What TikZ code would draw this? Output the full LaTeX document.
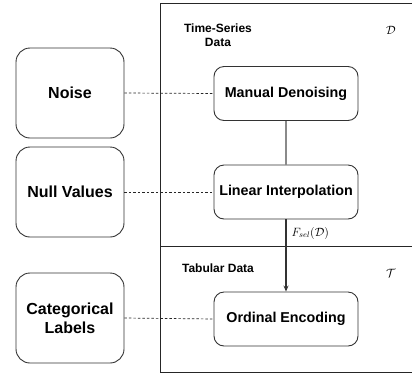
\documentclass[tikz,border=0pt]{standalone}
\usepackage{fontspec}
\setmainfont{Liberation Sans}
\usetikzlibrary{arrows.meta}
\definecolor{bordercol}{HTML}{333333}
\definecolor{vlinecol}{HTML}{8A8A8A}
\begin{document}
\begin{tikzpicture}[x=1pt,y=-1pt,
  leftbox/.style={draw=bordercol,line width=0.9pt,rounded corners=14pt,minimum width=108pt,minimum height=90pt,align=center,font=\fontsize{16}{19}\selectfont\bfseries,inner sep=0pt},
  stepbox/.style={draw=bordercol,line width=0.9pt,rounded corners=10pt,minimum width=144pt,minimum height=54pt,align=center,font=\fontsize{14.3}{17}\selectfont\bfseries,inner sep=0pt},
  framel/.style={draw=black!85,line width=1pt},
  link/.style={draw=black!85,dashed,dash pattern=on 2.5pt off 2pt,line width=0.7pt},
  lbl/.style={font=\fontsize{12}{15}\selectfont\bfseries,align=center,inner sep=0pt},
  mathl/.style={font=\fontsize{12}{14}\selectfont,inner sep=0pt}]
\useasboundingbox (0,0) rectangle (412,373);
% frame
\coordinate (ftl) at (160,3);
\coordinate (ftr) at (412,3);
\coordinate (fbl) at (160,372);
\coordinate (fbr) at (412,372);
\coordinate (fml) at (160,246);
\coordinate (fmr) at (412,246);
\draw[framel] (ftr) -- (ftl) -- (fbl) -- (fbr);
\draw[framel] (fml) -- (fmr);
% labels
\node[lbl] (ts) at (218,35.5) {Time-Series\\[-1pt]Data};
\node[lbl] (tab) at (218,268) {Tabular Data};
\node[mathl] (dsym) at (391,30) {$\mathcal{D}$};
\node[mathl] (tsym) at (391,273) {$\mathcal{T}$};
% left boxes
\node[leftbox] (noise) at (70,93) {Noise};
\node[leftbox] (null) at (70,192) {Null Values};
\node[leftbox] (cat) at (70,318) {Categorical\\Labels};
% right boxes
\node[stepbox] (md) at (286,93.5) {Manual Denoising};
\node[stepbox] (li) at (286,192) {Linear Interpolation};
\node[stepbox] (oe) at (286,319) {Ordinal Encoding};
% connectors
\draw[link] (noise.east) -- (md.west);
\draw[link] (null.east) -- (li.west);
\draw[link] (cat.east) -- (oe.west);
\draw[draw=vlinecol,line width=1.3pt] (md.south) -- (li.north);
\draw[draw=black!80,line width=1.2pt,-{Stealth[length=6pt,width=5pt]}] (li.south) -- node[mathl,right=5pt,pos=0.19] (fsel) {$F_{sel}(\mathcal{D})$} (oe.north);
\end{tikzpicture}
\end{document}
